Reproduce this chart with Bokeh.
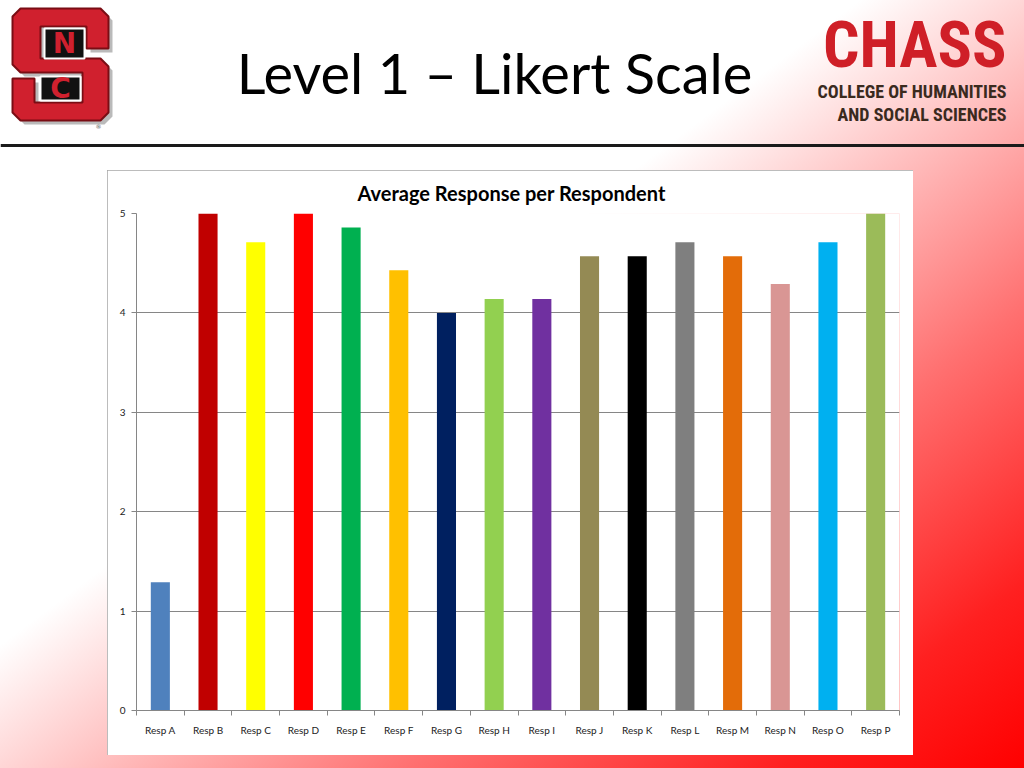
from bokeh.plotting import figure
from bokeh.models import Range1d, FixedTicker, Column, Row, Spacer, ColumnDataSource
from bokeh.embed import file_html
from bokeh.resources import INLINE
from bokeh.core.properties import value

# ---------------- data ----------------
categories = ["Resp A", "Resp B", "Resp C", "Resp D", "Resp E", "Resp F", "Resp G", "Resp H",
              "Resp I", "Resp J", "Resp K", "Resp L", "Resp M", "Resp N", "Resp O", "Resp P"]
averages = [1.29, 5.0, 4.71, 5.0, 4.86, 4.43, 4.0, 4.14,
            4.14, 4.57, 4.57, 4.71, 4.57, 4.29, 4.71, 5.0]
bar_colors = ["#4F81BD", "#C00000", "#FFFF00", "#FF0000", "#00B050", "#FFC000", "#002060", "#92D050",
              "#7030A0", "#948A54", "#000000", "#7F7F7F", "#E36C09", "#D99694", "#00B0F0", "#9BBB59"]
y_ticks = [0, 1, 2, 3, 4, 5]
slide_title = "Level 1 \u2013 Likert Scale"
chart_title = "Average Response per Respondent"
logo_big = "CHASS"
logo_line1 = "COLLEGE OF HUMANITIES"
logo_line2 = "AND SOCIAL SCIENCES"

W, H = 1024, 768
HEADER_H = 170

# ---------------- header (slide title, logos, rule) ----------------
h = figure(width=W, height=HEADER_H, x_range=Range1d(0, W), y_range=Range1d(HEADER_H, 0),
           output_backend="svg", toolbar_location=None, min_border=0,
           min_border_left=0, min_border_right=0, min_border_top=0, min_border_bottom=0,
           x_axis_location=None, y_axis_location=None)
h.grid.visible = False
h.outline_line_color = None
h.background_fill_alpha = 0
h.border_fill_alpha = 0

# NC State block-S logo (simplified)
s_x = [20, 100, 108, 108, 86, 86, 40, 40, 100, 108, 108, 100, 20, 12, 12, 34, 34, 82, 82, 20, 12, 12]
s_y = [8, 8, 16, 48, 48, 26, 26, 58, 58, 66, 112, 120, 120, 112, 78, 78, 102, 102, 72, 72, 64, 16]
h.patch([x + 4 for x in s_x], [y + 4 for y in s_y], fill_color="#8c8c8c", fill_alpha=0.6, line_color=None)
h.patch(s_x, s_y, fill_color="#d0202e", line_color="#7a0d14", line_width=2)
h.quad(left=[44, 40], right=[84, 80], top=[28, 76], bottom=[58, 100],
       fill_color="#111111", line_color="white", line_width=2)
h.text(x=[64, 60], y=[43, 88], text=["N", "C"], text_align="center", text_baseline="middle",
       text_font=value("DejaVu Sans"), text_font_style="bold", text_font_size="28px",
       text_color="#d0202e")
h.text(x=[98], y=[126], text=["\u00ae"], text_align="center", text_baseline="middle",
       text_font=value("DejaVu Sans"), text_font_size="6px", text_color="#555555")

# Slide title
h.text(x=[494], y=[72], text=[slide_title], text_align="center", text_baseline="middle",
       text_font=value("Lato"), text_font_size="56px", text_color="#000000")

# CHASS logo
cond = value("'Roboto Condensed', Roboto")
h.text(x=[1006], y=[45], text=[logo_big], text_align="right", text_baseline="middle",
       text_font=cond, text_font_style="bold", text_font_size="64px",
       text_color="#cf1f27")
h.text(x=[1006, 1006], y=[91, 114], text=[logo_line1, logo_line2], text_align="right",
       text_baseline="middle", text_font=cond, text_font_style="bold",
       text_font_size="18px", text_color="#3a2a1e")

# horizontal rule
h.segment(x0=[0], y0=[145], x1=[W], y1=[145], line_color="#1a1a1a", line_width=3)

# ---------------- chart ----------------
positions = list(range(len(categories)))
src = ColumnDataSource(dict(x=positions, top=averages, color=bar_colors, cat=categories))

p = figure(width=806, height=585, x_range=Range1d(-0.5, len(categories) - 0.5), y_range=Range1d(0, 5),
           output_backend="svg", toolbar_location=None,
           min_border_left=29, min_border_right=14, min_border_top=43, min_border_bottom=45,
           styles={"outline": "1px solid #a6a6a6", "outline-offset": "-1px"})
p.background_fill_color = "white"
p.border_fill_color = "white"
p.outline_line_color = None

p.vbar(x="x", top="top", width=0.4, bottom=0, fill_color="color", line_color=None, source=src)

p.title.text = chart_title
p.title.align = "left"
p.title.offset = 221
p.title.text_font = "Lato"
p.title.text_font_size = "20px"
p.title.text_font_style = "bold"
p.title.text_color = "#000000"
p.title.standoff = 17

grey = "#868686"
p.xgrid.visible = False
p.ygrid.grid_line_color = grey
p.ygrid.ticker = FixedTicker(ticks=y_ticks)

p.yaxis.ticker = FixedTicker(ticks=y_ticks)
p.yaxis.axis_line_color = grey
p.yaxis.major_tick_line_color = grey
p.yaxis.major_tick_out = 5
p.yaxis.major_tick_in = 0
p.yaxis.minor_tick_line_color = None
p.yaxis.major_label_standoff = 6
p.yaxis.major_label_text_font = "Lato"
p.yaxis.major_label_text_font_size = "10px"
p.yaxis.major_label_text_color = "#222222"

p.xaxis.ticker = FixedTicker(ticks=positions, minor_ticks=[i - 0.5 for i in range(len(categories) + 1)])
p.xaxis.major_label_overrides = {i: c for i, c in enumerate(categories)}
p.xaxis.axis_line_color = grey
p.xaxis.major_tick_line_color = None
p.xaxis.major_tick_out = 0
p.xaxis.major_tick_in = 0
p.xaxis.minor_tick_line_color = grey
p.xaxis.minor_tick_out = 5
p.xaxis.minor_tick_in = 0
p.xaxis.major_label_standoff = 8
p.xaxis.major_label_text_font = "Lato"
p.xaxis.major_label_text_font_size = "10px"
p.xaxis.major_label_text_color = "#222222"

chart_row = Row(children=[Spacer(width=107, height=585), p], width=W, height=585, spacing=0)

layout = Column(children=[h, chart_row], width=W, height=H, spacing=0,
                styles={"background": "linear-gradient(to bottom right, #ffffff 42%, #ff7070 70%, #ff2020 88%, #ff0000 100%)"})

open("out.html", "w").write(file_html(layout, INLINE))
